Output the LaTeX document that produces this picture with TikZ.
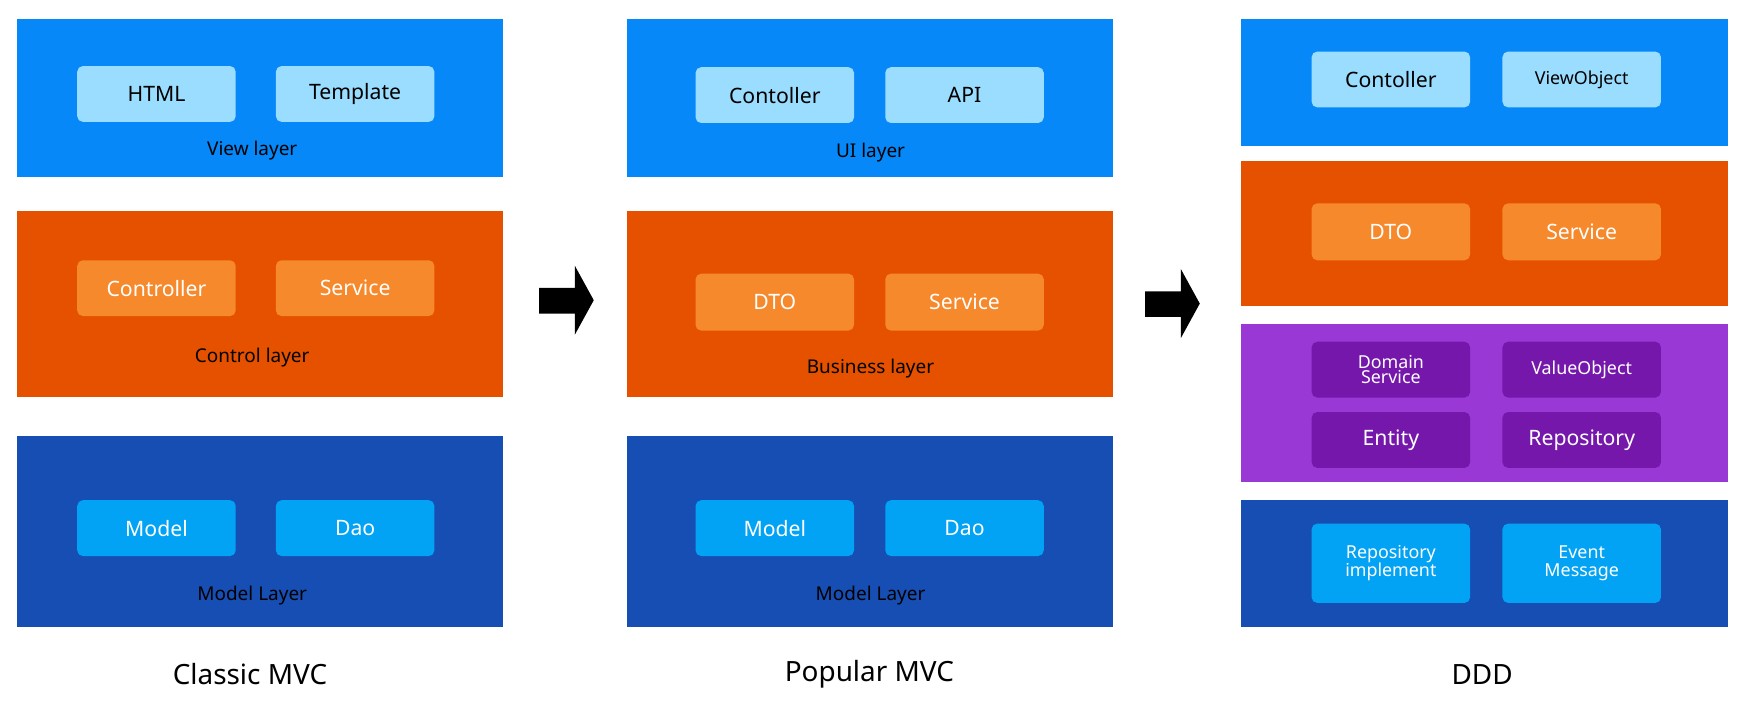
\documentclass[tikz,border=0pt]{standalone}
\usepackage{fontspec}
\setmainfont{Noto Sans}
\definecolor{cblue}{HTML}{0788F8}
\definecolor{corange}{HTML}{E65100}
\definecolor{cdark}{HTML}{174EB3}
\definecolor{cpurple}{HTML}{9A38D6}
\definecolor{ilight}{HTML}{9ADDFE}
\definecolor{iorange}{HTML}{F5892B}
\definecolor{icyan}{HTML}{02A3F4}
\definecolor{ipurple}{HTML}{7517AB}
\begin{document}
\begin{tikzpicture}[x=1pt,y=-1pt,
  layer/.style={draw=none},
  inner/.style={rounded corners=5pt,minimum width=142pt,anchor=north west,inner sep=0pt,align=center,font=\fontsize{19}{19}\selectfont},
  lbl/.style={font=\fontsize{17}{17}\selectfont},
  ttl/.style={font=\fontsize{25}{25}\selectfont},
  tiny/.style={font=\fontsize{16}{16}\selectfont}]
\useasboundingbox (0,0) rectangle (1568,643);
\fill[white] (0,0) rectangle (1568,643);
% column 1
\fill[cblue] (15,17) rectangle (451,159);
\fill[corange] (15,189) rectangle (451,356);
\fill[cdark] (15,391) rectangle (451,562);
\node[inner,fill=ilight,minimum height=50pt] (html) at (69,59) {HTML};
\node[inner,fill=ilight,minimum height=50pt] (tpl) at (247,59) {Template};
\node[lbl] (vl) at (226,135) {View layer};
\node[inner,fill=iorange,text=white,minimum height=50pt] (ctl1) at (69,233) {Controller};
\node[inner,fill=iorange,text=white,minimum height=50pt] (srv1) at (247,233) {Service};
\node[lbl] (cl) at (226,320) {Control layer};
\node[inner,fill=icyan,text=white,minimum height=50pt] (m1) at (69,448) {Model};
\node[inner,fill=icyan,text=white,minimum height=50pt] (d1) at (247,448) {Dao};
\node[lbl] (ml1) at (226,534) {Model Layer};
% column 2
\fill[cblue] (562,17) rectangle (997,159);
\fill[corange] (562,189) rectangle (997,356);
\fill[cdark] (562,391) rectangle (997,562);
\node[inner,fill=ilight,minimum height=50pt] (ctl2) at (623,60) {Contoller};
\node[inner,fill=ilight,minimum height=50pt] (api) at (793,60) {API};
\node[lbl] (ui) at (780,137) {UI layer};
\node[inner,fill=iorange,text=white,minimum height=51pt] (dto2) at (623,245) {DTO};
\node[inner,fill=iorange,text=white,minimum height=51pt] (srv2) at (793,245) {Service};
\node[lbl] (bl) at (780,330) {Business layer};
\node[inner,fill=icyan,text=white,minimum height=50pt] (m2) at (623,448) {Model};
\node[inner,fill=icyan,text=white,minimum height=50pt] (d2) at (793,448) {Dao};
\node[lbl] (ml2) at (780,534) {Model Layer};
% column 3
\fill[cblue] (1112,17) rectangle (1548,131);
\fill[corange] (1112,144) rectangle (1548,274);
\fill[cpurple] (1112,290) rectangle (1548,432);
\fill[cdark] (1112,448) rectangle (1548,562);
\node[inner,fill=ilight,minimum height=50pt] (ctl3) at (1175,46) {Contoller};
\node[inner,fill=ilight,minimum height=50pt,tiny] (vo) at (1346,46) {ViewObject};
\node[inner,fill=iorange,text=white,minimum height=51pt] (dto3) at (1175,182) {DTO};
\node[inner,fill=iorange,text=white,minimum height=51pt] (srv3) at (1346,182) {Service};
\node[inner,fill=ipurple,text=white,minimum height=50pt,tiny] (ds) at (1175,306) {Domain\\[-3pt]Service};
\node[inner,fill=ipurple,text=white,minimum height=50pt,tiny] (vo2) at (1346,306) {ValueObject};
\node[inner,fill=ipurple,text=white,minimum height=50pt] (ent) at (1175,369) {Entity};
\node[inner,fill=ipurple,text=white,minimum height=50pt] (rep) at (1346,369) {Repository};
\node[inner,fill=icyan,text=white,minimum height=71pt,tiny] (ri) at (1175,469) {Repository\\implement};
\node[inner,fill=icyan,text=white,minimum height=71pt,tiny] (em) at (1346,469) {Event\\Message};
% titles
\node[ttl] (t1) at (224,604) {Classic MVC};
\node[ttl] (t2) at (779,604) {Popular MVC};
\node[ttl] (t3) at (1328,604) {DDD};
% arrows
\fill[black] (483,258) -- (515,258) -- (515,238) -- (532,269) -- (515,300) -- (515,281) -- (483,281) -- cycle;
\fill[black] (1026,261) -- (1058,261) -- (1058,241) -- (1075,272) -- (1058,303) -- (1058,284) -- (1026,284) -- cycle;
\end{tikzpicture}
\end{document}
